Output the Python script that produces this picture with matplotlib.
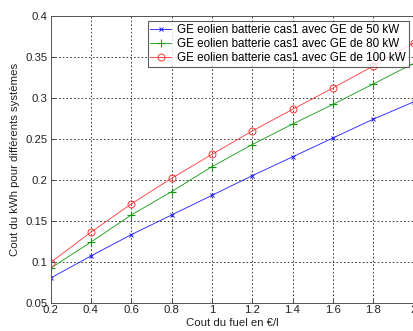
import matplotlib
matplotlib.use("Agg")
import matplotlib.pyplot as plt

fuel = [0.2, 0.4, 0.6, 0.8, 1.0, 1.2, 1.4, 1.6, 1.8, 2.0]
ge50 = [0.080, 0.107, 0.133, 0.157, 0.181, 0.205, 0.228, 0.251, 0.274, 0.295]
ge80 = [0.092, 0.124, 0.157, 0.1855, 0.216, 0.243, 0.268, 0.292, 0.317, 0.342]
ge100 = [0.099, 0.136, 0.1705, 0.2018, 0.231, 0.2596, 0.286, 0.312, 0.339, 0.367]
labels = ["GE eolien batterie cas1 avec GE de 50 kW",
          "GE eolien batterie cas1 avec GE de 80 kW",
          "GE eolien batterie cas1 avec GE de 100 kW"]
xticks = [0.2, 0.4, 0.6, 0.8, 1.0, 1.2, 1.4, 1.6, 1.8, 2.0]
xticklabels = ["0.2", "0.4", "0.6", "0.8", "1", "1.2", "1.4", "1.6", "1.8", "2"]
yticks = [0.05, 0.1, 0.15, 0.2, 0.25, 0.3, 0.35, 0.4]
yticklabels = ["0.05", "0.1", "0.15", "0.2", "0.25", "0.3", "0.35", "0.4"]

plt.rcParams['font.family'] = ['Liberation Sans', 'DejaVu Sans']
fs = 8.2

fig = plt.figure(figsize=(4.13, 3.31), dpi=100)
W, H = 413, 331
left, right, top, bottom = 50.5, 413.5, 16, 302.7
ax = fig.add_axes([left / W, 1 - bottom / H, (right - left) / W, (bottom - top) / H])

ax.plot(fuel, ge50, color='#1a1aff', lw=0.6, marker='x', ms=3.5, mew=0.7, label=labels[0])
ax.plot(fuel, ge80, color='#119911', lw=0.6, marker='+', ms=5.5, mew=0.8, label=labels[1])
ax.plot(fuel, ge100, color='#ff3333', lw=0.6, marker='o', ms=5, mew=0.7, mfc='none', label=labels[2])

ax.set_xlim(0.2, 2.0)
ax.set_ylim(0.05, 0.4)
ax.set_xticks(xticks)
ax.set_xticklabels(xticklabels)
ax.set_yticks(yticks)
ax.set_yticklabels(yticklabels)
ax.tick_params(direction='in', length=3, width=0.6, pad=2, labelsize=fs, colors='#333333', labelcolor='#222222')
ax.grid(True, color='#222222', linestyle=(0, (2, 2.5)), linewidth=0.6)
for s in ax.spines.values():
    s.set_color('#555555')
    s.set_linewidth(0.7)

ax.set_xlabel("Cout du fuel en €/l", fontsize=fs, labelpad=2, color='#222222')
ax.set_ylabel("Cout du kWh pour différents systèmes", fontsize=fs, labelpad=4, color='#222222')

leg = ax.legend(loc='upper right', bbox_to_anchor=((409 - left) / (right - left), 1 - (20.7 - top) / (bottom - top)),
                fontsize=8.4, frameon=True, fancybox=False, borderpad=0.25, labelspacing=0.2,
                handlelength=1.8, handletextpad=0.5, borderaxespad=0)
leg.get_frame().set_edgecolor('#333333')
leg.get_frame().set_linewidth(0.8)

fig.savefig("out.png", dpi=100)
